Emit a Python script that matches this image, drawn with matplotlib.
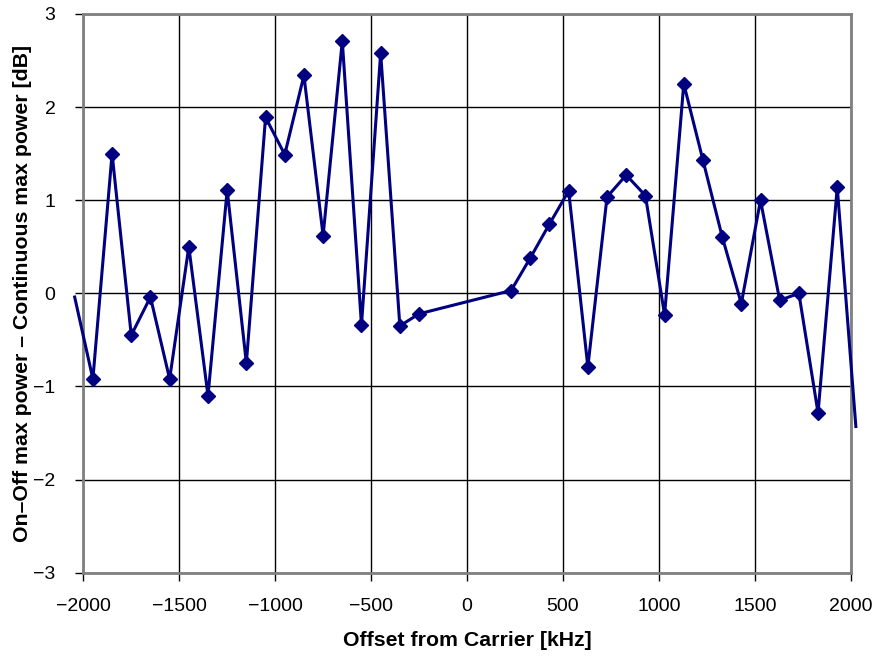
import numpy as np
import matplotlib
matplotlib.use("Agg")
import matplotlib.pyplot as plt

plt.rcParams['font.family'] = ['Liberation Sans', 'DejaVu Sans']

# Offset frequencies (kHz) and measured difference (dB)
offset_left = [-1950, -1850, -1750, -1650, -1550, -1450, -1350, -1250, -1150,
               -1050, -950, -850, -750, -650, -550, -450, -350, -250]
diff_left = [-0.92, 1.50, -0.45, -0.04, -0.92, 0.50, -1.10, 1.11, -0.75,
             1.89, 1.49, 2.34, 0.62, 2.71, -0.34, 2.58, -0.35, -0.22]
offset_right = [230, 330, 430, 530, 630, 730, 830, 930, 1030,
                1130, 1230, 1330, 1430, 1530, 1630, 1730, 1830, 1930]
diff_right = [0.03, 0.38, 0.745, 1.10, -0.79, 1.035, 1.27, 1.05, -0.23,
              2.25, 1.43, 0.61, -0.11, 1.00, -0.075, 0.00, -1.285, 1.14]
# points just outside the axis range (line only, no marker)
edge_x = [-2045, 2027]
edge_y = [-0.04, -1.43]

x = np.array([edge_x[0]] + offset_left + offset_right + [edge_x[1]])
y = np.array([edge_y[0]] + diff_left + diff_right + [edge_y[1]])

navy = '#000080'

fig = plt.figure(figsize=(8.75, 6.56), dpi=100)
ax = fig.add_axes([0.0952, 0.127, 0.877, 0.8517])

ax.plot(x, y, color=navy, lw=2.2, clip_on=False, zorder=3)
ax.plot(x[1:-1], y[1:-1], ls='none', marker='D', ms=7.3, color=navy,
        markeredgecolor=navy, zorder=4)

ax.set_xlim(-2000, 2000)
ax.set_ylim(-3, 3)
ax.set_xticks(np.arange(-2000, 2001, 500))
ax.set_yticks(np.arange(-3, 4, 1))
ax.grid(True, color='black', lw=1.0)
ax.set_axisbelow(True)

for s in ax.spines.values():
    s.set_color('#808080')
    s.set_linewidth(2)

ax.tick_params(axis='both', direction='out', length=6, width=1, color='black',
               labelsize=14)
ax.tick_params(axis='x', pad=12)
ax.tick_params(axis='y', pad=14)

ax.set_xlabel('Offset from Carrier [kHz]', fontsize=15.3, fontweight='bold', labelpad=12)
ax.set_ylabel('On\u2013Off max power \u2013 Continuous max power [dB]', fontsize=15.3,
              fontweight='bold', labelpad=1)

fig.savefig('out.png', dpi=100)
